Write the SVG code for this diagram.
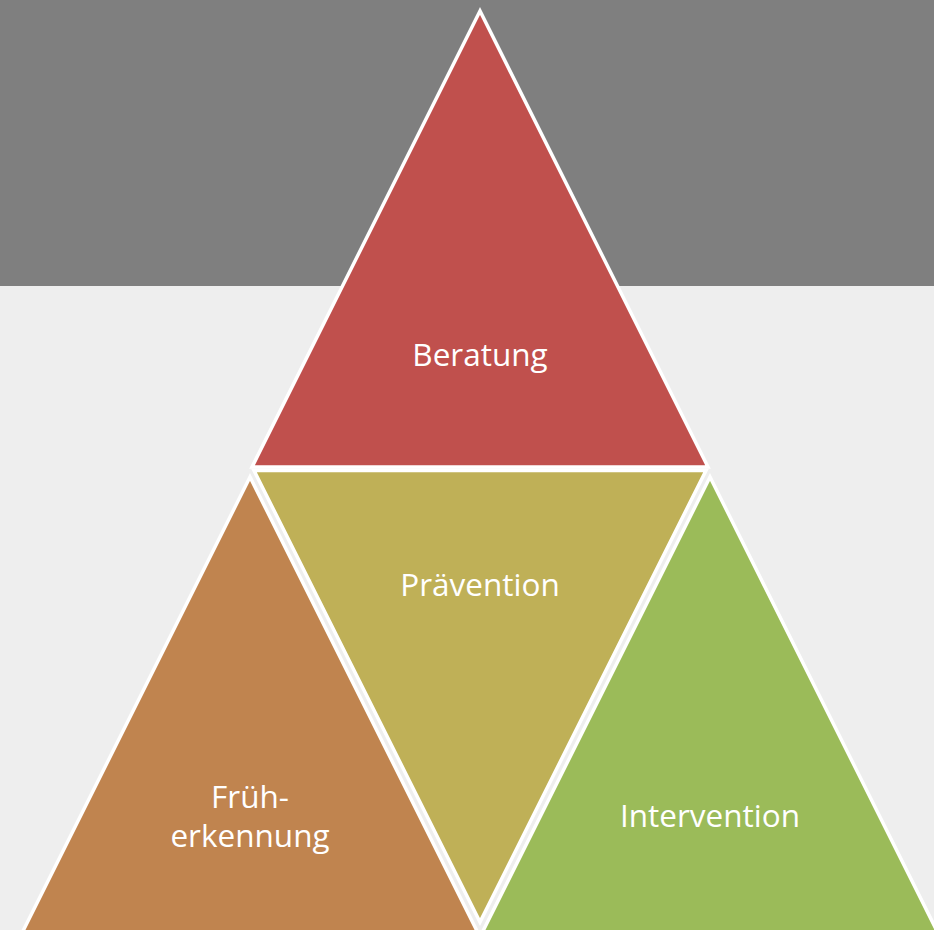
<svg xmlns="http://www.w3.org/2000/svg" width="934" height="930" viewBox="0 0 934 930">
<style>
.tri{stroke:#ffffff;stroke-width:3.5;stroke-linejoin:miter}
.lbl{font-family:"Open Sans","Liberation Sans",sans-serif;font-size:31.5px;fill:#ffffff;text-anchor:middle}
</style>
<rect x="0" y="0" width="934" height="930" fill="#eeeeee"/>
<rect x="0" y="0" width="934" height="286" fill="#7f7f7f"/>
<g id="beratung">
<polygon class="tri" fill="#c0504d" points="480,11 252,467 708,467"/>
<text class="lbl" x="480" y="366">Beratung</text>
</g>
<g id="praevention">
<polygon class="tri" fill="#bfb057" points="254,470.5 706,470.5 480,922"/>
<text class="lbl" x="480" y="596">Prävention</text>
</g>
<g id="frueherkennung">
<polygon class="tri" fill="#c0844f" points="250,477 19,939 481,939"/>
<text class="lbl" x="250" y="808">Früh-</text>
<text class="lbl" x="250" y="847">erkennung</text>
</g>
<g id="intervention">
<polygon class="tri" fill="#9bbb59" points="710,477 479,939 941,939"/>
<text class="lbl" x="710" y="827">Intervention</text>
</g>
<g id="connectors"></g>
</svg>
